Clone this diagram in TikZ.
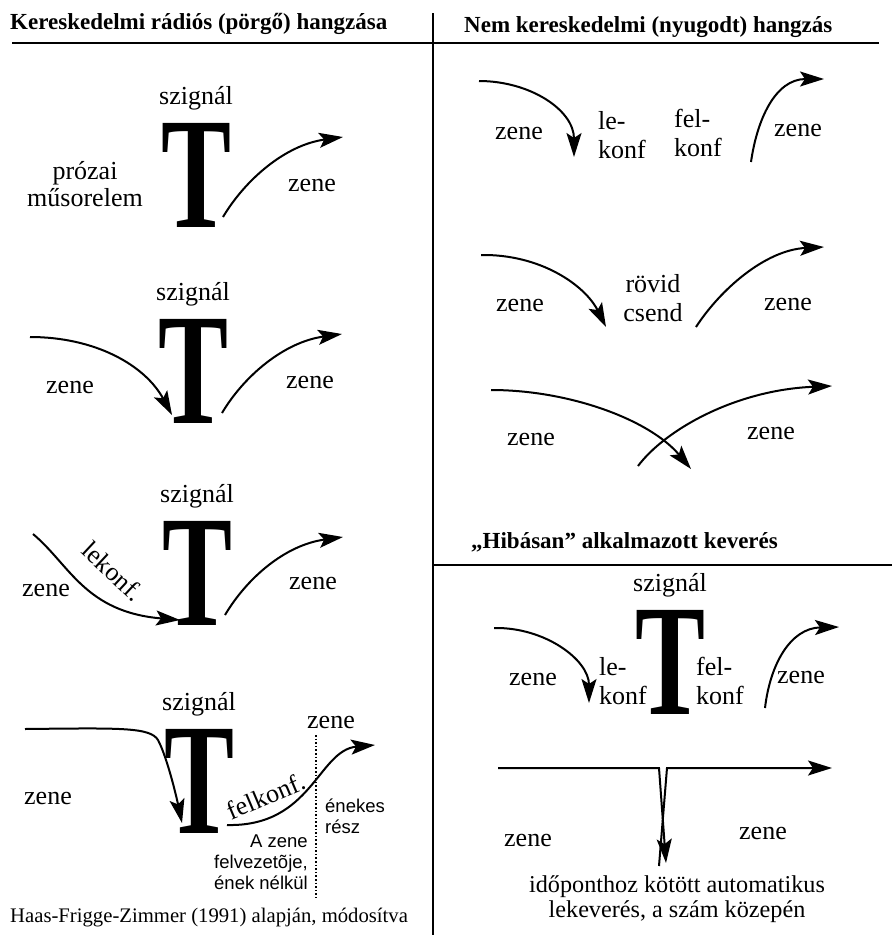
\documentclass[tikz,border=0pt]{standalone}
\usepackage{fontspec}
\setmainfont{Liberation Serif}
\setsansfont{Liberation Sans}
\usepackage{tikz}
\usetikzlibrary{arrows.meta, positioning, calc}

\newcommand{\bigT}{\scalebox{0.66}[1]{\fontsize{159}{159}\selectfont\bfseries T}}

\begin{document}
\begin{tikzpicture}[x=1pt, y=-1pt,
	arr/.style={line width=2pt, -{Stealth[length=24pt, width=15pt, inset=5pt]}},
	rule/.style={line width=2pt},
	lbl/.style={inner sep=0pt, font=\fontsize{26}{29}\selectfont, align=center},
	lblw/.style={lbl, align=left, anchor=west},
	sans/.style={inner sep=0pt, font=\fontsize{18.5}{21}\selectfont\sffamily},
	head/.style={inner sep=0pt, anchor=base west, font=\fontsize{23}{26}\selectfont\bfseries},
	tee/.style={inner sep=0pt, anchor=base}]
	\useasboundingbox (0,0) rectangle (892,935);

	\draw[rule] (12,43) -- (433,43);
	\draw[rule] (433,43) -- (879,43);
	\draw[rule] (433,13) -- (433,935);
	\draw[rule] (433,565) -- (892,565);

	\node[head] (hdL) at (10,29) {Kereskedelmi rádiós (pörgő) hangzása};
	\node[head] (hdR) at (464,32) {Nem kereskedelmi (nyugodt) hangzás};
	\node[head] (hdF) at (471,548) {„Hibásan” alkalmazott keverés};
	\node[inner sep=0pt, anchor=base west, font=\fontsize{20.7}{24}\selectfont] (src) at (10,922) {Haas-Frigge-Zimmer (1991) alapján, módosítva};

	% bal oszlop
	\node[tee] (t1) at (196,227) {\bigT};
	\node[lbl, above=12pt of t1] (sz1) {szignál};
	\node[lbl, font=\fontsize{26}{27}\selectfont] (pr) at (85,184) {prózai\\műsorelem};
	\node[lbl] (z1) at (312,185) {zene};
	\coordinate (a1s) at (223,217);
	\coordinate (a1e) at (343,137);
	\draw[arr] (a1s) .. controls (245,180) and (285,145) .. (a1e);

	\node[tee] (t2) at (193,423) {\bigT};
	\node[lbl, above=12pt of t2] (sz2) {szignál};
	\node[lbl] (z2a) at (70,387) {zene};
	\node[lbl] (z2b) at (310,382) {zene};
	\coordinate (b1s) at (30,337);
	\coordinate (b1e) at (172,415);
	\coordinate (b2s) at (222,413);
	\coordinate (b2e) at (342,334);
	\draw[arr] (b1s) .. controls (95,337) and (145,365) .. (b1e);
	\draw[arr] (b2s) .. controls (244,376) and (284,342) .. (b2e);

	\node[tee] (t3) at (197,625) {\bigT};
	\node[lbl, above=12pt of t3] (sz3) {szignál};
	\node[lbl] (z3a) at (46,590) {zene};
	\node[lbl] (z3b) at (313,583) {zene};
	\node[lbl, rotate=-43] (lk) at (113,571) {lekonf.};
	\coordinate (c1s) at (33,534);
	\coordinate (c1e) at (180,620);
	\coordinate (c2s) at (225,615);
	\coordinate (c2e) at (343,537);
	\draw[arr] (c1s) .. controls (70,565) and (85,612) .. (c1e);
	\draw[arr] (c2s) .. controls (247,578) and (285,545) .. (c2e);

	\node[tee] (t4) at (199,833) {\bigT};
	\node[lbl, above=12pt of t4] (sz4) {szignál};
	\node[lbl] (z4a) at (48,798) {zene};
	\node[lbl] (z4b) at (331,722) {zene};
	\node[lbl, rotate=23] (fk) at (266,796) {felkonf.};
	\coordinate (d1s) at (25,729);
	\coordinate (d1e) at (182,823);
	\coordinate (d2s) at (227,825);
	\coordinate (d2e) at (375,745);
	\coordinate (dt) at (316,735);
	\coordinate (db) at (316,898);
	\draw[arr] (d1s) .. controls (120,728) and (150,727) .. (158,740) .. controls (166,755) and (175,790) .. (d1e);
	\draw[arr] (d2s) .. controls (312,827) and (318,750) .. (d2e);
	\draw[line width=1.6pt, dotted] (dt) -- (db);
	\node[sans, align=left, anchor=west] (ek) at (325,816) {énekes\\rész};
	\node[sans, align=right, anchor=east] (fv) at (308,862) {A zene\\felvezetõje,\\ének nélkül};

	% jobb oszlop
	\node[lbl] (r1a) at (519,133) {zene};
	\node[lblw] (r1l) at (598,135) {le-\\konf};
	\node[lblw] (r1f) at (674,133) {fel-\\konf};
	\node[lbl] (r1b) at (798,130) {zene};
	\coordinate (e1s) at (479,81);
	\coordinate (e1e) at (574,157);
	\coordinate (e2s) at (751,162);
	\coordinate (e2e) at (824,79);
	\draw[arr] (e1s) .. controls (530,81) and (574,110) .. (e1e);
	\draw[arr] (e2s) .. controls (757,120) and (775,79) .. (e2e);

	\node[lbl] (r2a) at (520,305) {zene};
	\node[lbl] (rc) at (653,298) {rövid\\csend};
	\node[lbl] (r2b) at (788,304) {zene};
	\coordinate (f1s) at (481,255);
	\coordinate (f1e) at (606,327);
	\coordinate (f2s) at (696,327);
	\coordinate (f2e) at (824,247);
	\draw[arr] (f1s) .. controls (540,254) and (585,285) .. (f1e);
	\draw[arr] (f2s) .. controls (720,290) and (765,250) .. (f2e);

	\node[lbl] (r3a) at (531,439) {zene};
	\node[lbl] (r3b) at (771,433) {zene};
	\coordinate (g1s) at (491,390);
	\coordinate (g1e) at (691,469);
	\coordinate (g2s) at (638,466);
	\coordinate (g2e) at (832,386);
	\draw[arr] (g1s) .. controls (570,390) and (650,420) .. (g1e);
	\draw[arr] (g2s) .. controls (665,430) and (735,390) .. (g2e);

	\node[tee] (t5) at (670,714) {\bigT};
	\node[lbl, above=12pt of t5] (sz5) {szignál};
	\node[lbl] (r4a) at (533,679) {zene};
	\node[lblw] (r4l) at (599,681) {le-\\konf};
	\node[lblw] (r4f) at (696,681) {fel-\\konf};
	\node[lbl] (r4b) at (801,677) {zene};
	\coordinate (h1s) at (494,628);
	\coordinate (h1e) at (589,703);
	\coordinate (h2s) at (765,708);
	\coordinate (h2e) at (839,627);
	\draw[arr] (h1s) .. controls (545,627) and (589,660) .. (h1e);
	\draw[arr] (h2s) .. controls (770,665) and (790,628) .. (h2e);

	\coordinate (m1) at (498,768);
	\coordinate (m2) at (659,768);
	\coordinate (m3) at (666,863);
	\coordinate (m4) at (659,866);
	\coordinate (m5) at (667,768);
	\coordinate (m6) at (832,768);
	\draw[arr] (m1) -- (m2) -- (m3);
	\draw[arr] (m4) -- (m5) -- (m6);
	\node[lbl] (r5a) at (528,840) {zene};
	\node[lbl] (r5b) at (763,833) {zene};
	\node[lbl, font=\fontsize{24.2}{25}\selectfont] (cap) at (677,899) {időponthoz kötött automatikus\\lekeverés, a szám közepén};
\end{tikzpicture}
\end{document}
